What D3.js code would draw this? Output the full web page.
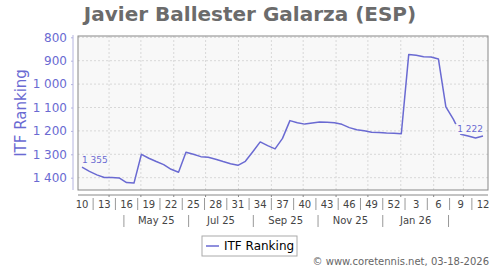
<!DOCTYPE html>
<html>
<head>
<meta charset="utf-8">
<title></title>
<style type="text/css">
  body { margin: 0; background: #fff; }
  text { font-family: "DejaVu Sans", sans-serif; }
</style>
</head>
<body>
<div class="container"></div>
<script src="https://d3js.org/d3.v7.min.js"></script>
<script type="text/javascript">
var wd = 500
var ht = 270

var title = "Javier Ballester Galarza (ESP)"
var seriesName = "ITF Ranking"
var footer = "\u00a9 www.coretennis.net, 03-18-2026"
var startYear = 2025

// ISO week numbers, one point per week
var weeks = [10,11,12,13,14,15,16,17,18,19,20,21,22,23,24,25,26,27,28,29,30,31,32,33,34,35,36,37,38,39,40,41,42,43,44,45,46,47,48,49,50,51,52,
             1,2,3,4,5,6,7,8,9,10,11,12]
var ranking = [1355,1373,1388,1399,1399,1401,1421,1423,1300,1317,1331,1344,1364,1377,1291,1300,1310,1313,1321,1331,1340,1347,1330,1289,1247,1263,1277,1232,1156,1165,1171,1166,1162,1163,1165,1172,1186,1195,1199,1206,1207,1209,1210,
               1212,873,877,883,884,893,1097,1150,1214,1222,1230,1222]
var yTicks = [800,900,1000,1100,1200,1300,1400]
var weekTickEvery = 3

var purple = "#6a6ad2"
var plotBg = "#f8f8f8"

// plot box
var pl = 78, pt = 36, pr = 488, pb = 190

var loc = d3.formatLocale({decimal: ".", thousands: " ", grouping: [3], currency: ["", ""]})
var fmt = loc.format(",d")

function weekMid(year, week) {
  var jan4 = new Date(year, 0, 4)
  var dow = (jan4.getDay() + 6) % 7
  var monday = d3.timeDay.offset(jan4, -dow + (week - 1) * 7)
  return new Date(monday.getTime() + 3.5 * 864e5)
}

var yr = startYear
var data = weeks.map(function(w, i) {
  if (i > 0 && w < weeks[i - 1]) yr++
  return {week: w, date: weekMid(yr, w), value: ranking[i]}
})

var svg = d3.select(".container").append("svg")
  .attr("width", wd)
  .attr("height", ht)

var x = d3.scaleTime()
  .domain([data[0].date, data[data.length - 1].date])
  .range([82, 483])

var y = d3.scaleLinear()
  .domain([800, 1400])
  .range([37.3, 177.7])

// title
svg.append("text")
  .attr("x", wd / 2)
  .attr("y", 21)
  .attr("text-anchor", "middle")
  .style("font-size", "20px")
  .style("font-weight", "bold")
  .attr("fill", "#6b6b6b")
  .text(title)

// plot background
svg.append("rect")
  .attr("x", pl).attr("y", pt)
  .attr("width", pr - pl).attr("height", pb - pt)
  .attr("fill", plotBg)

// gridlines
svg.append("g").selectAll("line")
  .data(yTicks)
  .join("line")
  .attr("x1", pl).attr("x2", pr)
  .attr("y1", function(d) { return y(d) }).attr("y2", function(d) { return y(d) })
  .attr("stroke", "#d8d8d8")
  .attr("stroke-dasharray", "2,2")

var months = d3.timeMonth.range(x.invert(pl), x.invert(pr))
svg.append("g").selectAll("line")
  .data(months)
  .join("line")
  .attr("x1", function(d) { return x(d) }).attr("x2", function(d) { return x(d) })
  .attr("y1", pt).attr("y2", pb)
  .attr("stroke", "#d8d8d8")
  .attr("stroke-dasharray", "2,2")

svg.append("rect")
  .attr("x", pl).attr("y", pt)
  .attr("width", pr - pl).attr("height", pb - pt)
  .attr("fill", "none")
  .attr("stroke", "#888")

// y axis
var yAxis = d3.axisLeft(y)
  .tickValues(yTicks)
  .tickFormat(fmt)
  .tickSize(2)
  .tickPadding(4)
var yg = svg.append("g")
  .attr("transform", "translate(73,0)")
  .call(yAxis)
yg.select(".domain").attr("d", "M0," + (pt - 1) + "V" + pb).attr("stroke", "#b4b4e0")
yg.selectAll(".tick line").attr("stroke", "#b4b4e0")
yg.selectAll(".tick text")
  .attr("fill", purple)
  .style("font-size", "12px")
  .style("font-family", "DejaVu Sans")

svg.append("text")
  .attr("transform", "translate(26," + ((pt + pb) / 2) + ") rotate(-90)")
  .attr("text-anchor", "middle")
  .attr("fill", purple)
  .style("font-size", "15px")
  .text(seriesName)

// x axis: week labels
var xg = svg.append("g")
xg.append("line")
  .attr("x1", pl).attr("x2", pr)
  .attr("y1", 195).attr("y2", 195)
  .attr("stroke", "#888")

xg.selectAll(".mtick")
  .data(months)
  .join("line")
  .attr("class", "mtick")
  .attr("x1", function(d) { return x(d) }).attr("x2", function(d) { return x(d) })
  .attr("y1", 195).attr("y2", 197)
  .attr("stroke", "#888")

var weekTicks = data.filter(function(d, i) { return i % weekTickEvery == 0 })
xg.selectAll(".wlab")
  .data(weekTicks)
  .join("text")
  .attr("class", "wlab")
  .attr("x", function(d) { return x(d.date) })
  .attr("y", 208)
  .attr("text-anchor", "middle")
  .attr("fill", "#444")
  .style("font-size", "10px")
  .text(function(d) { return d.week })

var seps = weekTicks.slice(1).map(function(d, i) {
  return (x(weekTicks[i].date) + x(d.date)) / 2
})
xg.selectAll(".wsep")
  .data(seps)
  .join("line")
  .attr("class", "wsep")
  .attr("x1", function(d) { return d }).attr("x2", function(d) { return d })
  .attr("y1", 198).attr("y2", 210)
  .attr("stroke", "#999")

// x axis: two-month bands
var bandEdges = d3.timeMonth.every(2).range(new Date(startYear, 0, 1), x.invert(pr))
  .map(function(d) { return d3.timeDay.offset(d3.timeMonth.offset(d, 3), 14) })
  .filter(function(d) { return x(d) > pl && x(d) < pr })
xg.selectAll(".msep")
  .data(bandEdges)
  .join("line")
  .attr("class", "msep")
  .attr("x1", function(d) { return x(d) }).attr("x2", function(d) { return x(d) })
  .attr("y1", 215).attr("y2", 227)
  .attr("stroke", "#999")

var monthFmt = d3.timeFormat("%b %y")
xg.selectAll(".mlab")
  .data(bandEdges.slice(1).map(function(d, i) { return [bandEdges[i], d] }))
  .join("text")
  .attr("class", "mlab")
  .attr("x", function(d) { return (x(d[0]) + x(d[1])) / 2 })
  .attr("y", 224)
  .attr("text-anchor", "middle")
  .attr("fill", "#444")
  .style("font-size", "10px")
  .text(function(d) { return monthFmt(d3.timeMonth.offset(d3.timeMonth.floor(d[0]), 1)) })

// series line
var line = d3.line()
  .x(function(d) { return x(d.date) })
  .y(function(d) { return y(d.value) })

svg.append("path")
  .datum(data)
  .attr("d", line)
  .attr("fill", "none")
  .attr("stroke", purple)
  .attr("stroke-width", 1.5)
  .attr("stroke-linejoin", "round")

// first and last value labels
var first = data[0], last = data[data.length - 1]
var labs = [
  {d: first, anchor: "start"},
  {d: last, anchor: "end"}
]
labs.forEach(function(l) {
  var g = svg.append("g")
  var t = g.append("text")
    .attr("x", x(l.d.date))
    .attr("y", y(l.d.value) - 4)
    .attr("text-anchor", l.anchor)
    .attr("fill", purple)
    .style("font-size", "9px")
    .text(fmt(l.d.value))
  var bb = t.node().getBBox()
  g.insert("rect", "text")
    .attr("x", bb.x - 2).attr("y", bb.y)
    .attr("width", bb.width + 3).attr("height", bb.height)
    .attr("fill", plotBg)
})

// legend
var lg = svg.append("g")
lg.append("rect")
  .attr("x", 202).attr("y", 236)
  .attr("width", 95).attr("height", 20)
  .attr("fill", "#fff")
  .attr("stroke", "#aaa")
lg.append("line")
  .attr("x1", 206).attr("x2", 219)
  .attr("y1", 246).attr("y2", 246)
  .attr("stroke", purple)
  .attr("stroke-width", 1.5)
lg.append("text")
  .attr("x", 224).attr("y", 250)
  .attr("fill", "#000")
  .style("font-size", "12px")
  .text(seriesName)

// footer
svg.append("text")
  .attr("x", 489).attr("y", 265)
  .attr("text-anchor", "end")
  .attr("fill", "#666")
  .style("font-size", "10px")
  .text(footer)
</script>
</body>
</html>
